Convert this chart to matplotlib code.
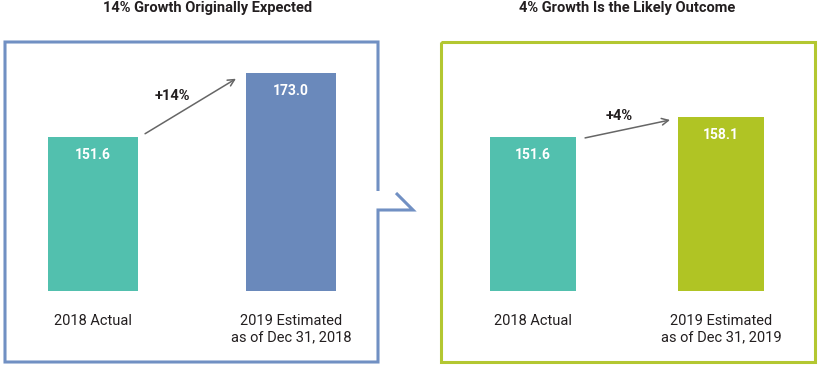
import matplotlib.pyplot as plt
from matplotlib.lines import Line2D

plt.rcParams['font.family'] = ['Roboto', 'DejaVu Sans']

# data
categories_left = ['2018 Actual', '2019 Estimated\nas of Dec 31, 2018']
values_left = [151.6, 173.0]
growth_left = '+14%'
title_left = '14% Growth Originally Expected'

categories_right = ['2018 Actual', '2019 Estimated\nas of Dec 31, 2019']
values_right = [151.6, 158.1]
growth_right = '+4%'
title_right = '4% Growth Is the Likely Outcome'

teal = '#52c0ae'
blue = '#6a89bb'
green = '#b0c424'
box_blue = '#7190c3'
box_green = '#b3c731'
text_col = '#231f20'

W, H = 820, 368
fig = plt.figure(figsize=(W / 100, H / 100), dpi=100)


def px(x, y):
    return x / W, 1 - y / H


def panel(x0, x1, centers, width, cats, vals, colors, growth, arrow_pts, label_pt, title, title_x):
    # axes spans the box, bottom at bar baseline
    left, bottom = px(x0, 291)
    right, top = px(x1, 42)
    ax = fig.add_axes([left, bottom, right - left, top - bottom])
    sp = centers[1] - centers[0]
    ax.set_xlim(-(centers[0] - x0) / sp, 1 + (x1 - centers[1]) / sp)
    ax.set_ylim(100, 100 + 249 / 2.99)
    ax.bar([0, 1], vals, width=width / sp, bottom=0, color=colors)
    for i, v in enumerate(vals):
        ax.text(i, v - 6.0, f'{v:.1f}', ha='center', va='center', color='white',
                fontsize=10, fontweight='bold')
    (sx, sy), (ex, ey) = arrow_pts
    ax.annotate('', xy=(ex, ey), xytext=(sx, sy),
                arrowprops=dict(arrowstyle='->', color='#666666', lw=1.1,
                                shrinkA=0, shrinkB=0, mutation_scale=12))
    ax.text(label_pt[0], label_pt[1], growth, ha='center', va='center',
            fontsize=10.5, fontweight='bold', color=text_col)
    ax.set_xticks([0, 1], cats)
    ax.tick_params(axis='x', length=0, pad=16.5, labelsize=10.5, labelcolor=text_col)
    ax.set_yticks([])
    for s in ax.spines.values():
        s.set_visible(False)
    ax.patch.set_alpha(0)
    fig.text(*px(title_x, 8), title, ha='center', va='center',
             fontsize=10.5, fontweight='bold', color=text_col)
    return ax


panel(5, 379, [93, 291], 90, categories_left, values_left, [teal, blue], growth_left,
      [(0.263, values_left[0] + 1), (0.722, values_left[1] - 2)], (0.40, 165.2),
      title_left, 208)
panel(441, 815, [533, 721], 86, categories_right, values_right, [teal, green], growth_right,
      [(0.277, values_right[0] - 0.4), (0.729, values_right[1] - 0.9)], (0.457, 158.5),
      title_right, 627)

# box outlines
left_path = [(378, 191), (378, 42), (5, 42), (5, 362), (378, 362), (378, 210), (413, 210), (396, 193)]
right_path = [(441, 42), (815, 42), (815, 362), (441, 362), (441, 42)]
for path, c in [(left_path, box_blue), (right_path, box_green)]:
    xs, ys = zip(*[px(x, y) for x, y in path])
    fig.add_artist(Line2D(xs, ys, color=c, lw=2.2, transform=fig.transFigure,
                          solid_joinstyle='miter', solid_capstyle='butt'))

fig.savefig('out.png', dpi=100)
